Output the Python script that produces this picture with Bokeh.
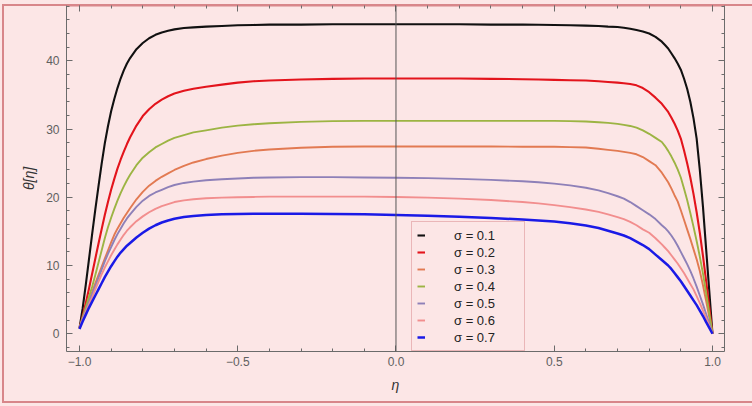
from bokeh.plotting import figure
from bokeh.models import Legend, LegendItem, LinearAxis, FixedTicker, Span, Range1d
from bokeh.embed import file_html
from bokeh.resources import INLINE

# ---- data ----
eta = [-1.0, -0.99, -0.98, -0.97, -0.96, -0.95, -0.94, -0.93, -0.92, -0.91, -0.90, -0.89,
       -0.88, -0.87, -0.86, -0.85, -0.84,
       -0.82, -0.80, -0.78, -0.76, -0.74, -0.72, -0.70,
       -0.67, -0.64, -0.60, -0.55, -0.50, -0.45, -0.40,
       -0.30, -0.20, -0.10, 0.0,
       0.10, 0.20, 0.30, 0.40,
       0.45, 0.50, 0.55, 0.60, 0.64, 0.67, 0.70,
       0.72, 0.74, 0.76, 0.78, 0.80, 0.82, 0.84,
       0.85, 0.86, 0.87, 0.88, 0.89, 0.90, 0.91, 0.92, 0.93, 0.94, 0.95, 0.96, 0.97, 0.98,
       0.99, 1.0]

theta_s01 = [0.8, 3.7, 7.2, 10.9, 14.6, 18.2, 21.6, 24.9, 27.9, 30.4, 32.6, 34.4, 36.0, 37.4, 38.6, 39.6, 40.4,
             41.7, 42.6, 43.3, 43.8, 44.15, 44.4, 44.6,
             44.8, 44.9, 45.0, 45.1, 45.2, 45.25, 45.3,
             45.3, 45.35, 45.35, 45.35,
             45.35, 45.35, 45.3, 45.3,
             45.28, 45.25, 45.2, 45.15, 45.1, 45.0, 44.95,
             44.85, 44.7, 44.5, 44.3, 44.0, 43.5, 42.8,
             42.3, 41.8, 41.1, 40.4, 39.6, 38.7, 37.4, 35.9, 34.0, 31.6, 28.6, 24.0, 18.6, 12.4, 6.2, 0.0]
theta_s02 = [0.8, 2.6, 4.5, 6.6, 8.8, 11.0, 13.2, 15.3, 17.4, 19.3, 21.1, 22.7, 24.2, 25.5, 26.7, 27.8, 28.8,
             30.5, 31.9, 32.9, 33.7, 34.3, 34.8, 35.2,
             35.6, 35.9, 36.2, 36.5, 36.8, 37.0, 37.1,
             37.25, 37.35, 37.4, 37.4,
             37.4, 37.4, 37.35, 37.3,
             37.25, 37.2, 37.15, 37.1, 37.0, 36.9, 36.8,
             36.7, 36.6, 36.4, 36.0, 35.4, 34.6, 33.7,
             33.1, 32.5, 31.7, 30.8, 29.8, 28.6, 26.9, 25.0, 22.9, 20.5, 17.8, 14.8, 11.4, 7.7, 3.9, 0.0]
theta_s03 = [0.8, 2.2, 3.5, 4.8, 6.1, 7.4, 8.6, 9.8, 11.0, 12.2, 13.4, 14.5, 15.4, 16.2, 17.0, 17.7, 18.4,
             19.7, 20.8, 21.7, 22.4, 23.0, 23.5, 24.0,
             24.6, 25.1, 25.6, 26.1, 26.5, 26.8, 27.0,
             27.25, 27.4, 27.45, 27.45,
             27.45, 27.45, 27.45, 27.4,
             27.4, 27.4, 27.35, 27.3, 27.1, 26.95, 26.8,
             26.65, 26.5, 26.3, 25.9, 25.3, 24.7, 23.6,
             22.9, 22.2, 21.3, 20.3, 19.4, 18.1, 16.7, 15.3, 13.9, 12.4, 10.9, 9.2, 7.1, 4.8, 2.4, 0.0]
theta_s04 = [0.8, 2.4, 3.9, 5.4, 6.9, 8.6, 10.4, 12.2, 14.0, 15.6, 17.0, 18.3, 19.5, 20.6, 21.6, 22.5, 23.3,
             24.7, 25.8, 26.6, 27.3, 27.8, 28.3, 28.7,
             29.1, 29.5, 29.8, 30.2, 30.5, 30.7, 30.85,
             31.05, 31.15, 31.2, 31.2,
             31.2, 31.2, 31.2, 31.2,
             31.2, 31.2, 31.15, 31.1, 31.0, 30.9, 30.75,
             30.6, 30.45, 30.2, 29.8, 29.3, 28.7, 28.1,
             27.5, 26.8, 26.0, 25.1, 24.1, 22.9, 21.3, 19.6, 17.7, 15.7, 13.6, 11.3, 8.8, 6.0, 3.0, 0.0]
theta_s05 = [0.8, 2.2, 3.4, 4.6, 5.8, 7.0, 8.2, 9.4, 10.6, 11.7, 12.7, 13.7, 14.6, 15.4, 16.2, 16.9, 17.5,
             18.6, 19.5, 20.2, 20.7, 21.1, 21.5, 21.8,
             22.1, 22.3, 22.5, 22.65, 22.75, 22.85, 22.9,
             22.95, 22.95, 22.9, 22.85,
             22.8, 22.7, 22.55, 22.35,
             22.2, 22.0, 21.75, 21.4, 21.0, 20.6, 20.15,
             19.8, 19.3, 18.7, 18.1, 17.5, 16.8, 15.9,
             15.5, 15.0, 14.4, 13.7, 12.9, 12.0, 11.1, 10.2, 9.2, 8.1, 6.9, 5.6, 4.3, 2.9, 1.5, 0.0]
theta_s06 = [0.8, 2.0, 3.2, 4.3, 5.3, 6.5, 7.6, 8.7, 9.7, 10.6, 11.5, 12.3, 13.1, 13.8, 14.5, 15.1, 15.6,
             16.5, 17.2, 17.8, 18.3, 18.7, 19.0, 19.3,
             19.55, 19.7, 19.85, 19.95, 20.0, 20.05, 20.1,
             20.1, 20.1, 20.1, 20.05,
             19.95, 19.8, 19.6, 19.3,
             19.1, 18.85, 18.55, 18.2, 17.85, 17.5, 17.1,
             16.8, 16.4, 15.9, 15.3, 14.8, 14.0, 13.1,
             12.6, 12.1, 11.5, 10.9, 10.3, 9.6, 8.9, 8.1, 7.3, 6.5, 5.5, 4.5, 3.4, 2.3, 1.15, 0.0]
theta_s07 = [0.7, 1.8, 2.8, 3.8, 4.7, 5.6, 6.5, 7.4, 8.3, 9.1, 9.9, 10.6, 11.3, 11.9, 12.4, 12.9, 13.3,
             14.1, 14.8, 15.4, 15.9, 16.3, 16.6, 16.85,
             17.1, 17.25, 17.4, 17.5, 17.55, 17.6, 17.6,
             17.6, 17.55, 17.5, 17.4,
             17.3, 17.15, 16.95, 16.75,
             16.6, 16.45, 16.2, 15.85, 15.5, 15.1, 14.7,
             14.4, 14.0, 13.5, 13.0, 12.4, 11.6, 10.8,
             10.4, 10.0, 9.5, 8.9, 8.3, 7.7, 7.0, 6.3, 5.6, 4.9, 4.2, 3.4, 2.6, 1.7, 0.85, 0.0]

series = [theta_s01, theta_s02, theta_s03, theta_s04, theta_s05, theta_s06, theta_s07]
labels = ["σ = 0.1", "σ = 0.2", "σ = 0.3", "σ = 0.4", "σ = 0.5", "σ = 0.6", "σ = 0.7"]
colors = ["#111111", "#e3141c", "#e27a52", "#9cb443", "#8e80b8", "#f28e8e", "#1a1ae6"]
widths = [2.1, 2.1, 1.9, 1.9, 1.9, 1.9, 2.5]

x_major = [-1.0, -0.5, 0.0, 0.5, 1.0]
x_major_labels = ["\u22121.0", "\u22120.5", "0.0", "0.5", "1.0"]
x_minor = [round(-1.0 + 0.1 * i, 2) for i in range(21)]
y_major = [0, 10, 20, 30, 40]
y_minor = list(range(-2, 49, 2))

BG = "#fce6e6"
BORDER = "#d8868a"
AXIS = "#6b6b6b"
FONT = "Liberation Sans"

p = figure(width=752, height=406, output_backend="svg", toolbar_location=None,
           x_range=Range1d(-1.041, 1.038), y_range=Range1d(-2.6, 48.1),
           x_axis_label="η", y_axis_label="θ[η]")
p.min_border_left = 66
p.min_border_right = 28
p.min_border_top = 5
p.min_border_bottom = 55
p.background_fill_color = BG
p.border_fill_color = BG
p.border_fill_alpha = 0.0
p.outline_line_color = None
p.grid.visible = False
p.styles = {
    "background": (f"linear-gradient({BORDER},{BORDER}) 3px 4px / 749px 2px no-repeat, "
                   f"linear-gradient({BORDER},{BORDER}) 2px 4px / 2px 399px no-repeat, "
                   f"linear-gradient({BORDER},{BORDER}) 2px 401px / 750px 2px no-repeat, {BG}"),
}

renderers = []
for ys, c, w in zip(series, colors, widths):
    r = p.line(eta, ys, line_color=c, line_width=w, line_join="round")
    renderers.append(r)

p.add_layout(Span(location=0, dimension="height", line_color="#555555", line_width=1))

def style_axis(ax, ticks, minor, line_color=AXIS, line_width=1):
    ax.ticker = FixedTicker(ticks=ticks, minor_ticks=minor)
    ax.axis_line_color = line_color
    ax.axis_line_width = line_width
    ax.major_tick_line_color = AXIS
    ax.minor_tick_line_color = AXIS
    ax.major_tick_in = 6
    ax.major_tick_out = 0
    ax.minor_tick_in = 3
    ax.minor_tick_out = 0
    ax.major_label_text_font = FONT
    ax.major_label_text_font_size = "12px"
    ax.major_label_text_color = "#606060"
    ax.axis_label_text_font = FONT
    ax.axis_label_text_font_size = "14px"
    ax.axis_label_text_font_style = "italic"
    ax.axis_label_text_color = "#333333"

xa = p.xaxis[0]
style_axis(xa, x_major, x_minor)
xa.major_label_overrides = {v: s for v, s in zip(x_major, x_major_labels)}
xa.major_label_standoff = 5
xa.axis_label_standoff = 8

ya = p.yaxis[0]
style_axis(ya, y_major, y_minor)
ya.major_label_standoff = 7
ya.axis_label_standoff = 6

top = LinearAxis()
style_axis(top, x_major, x_minor, line_color=BORDER, line_width=2)
top.major_label_overrides = {v: "" for v in x_major}
top.major_label_standoff = 0
p.add_layout(top, "above")

right = LinearAxis()
style_axis(right, y_major, y_minor)
right.major_label_overrides = {v: "" for v in y_major}
right.major_label_standoff = 0
p.add_layout(right, "right")

items = [LegendItem(label=l, renderers=[r]) for l, r in zip(labels, renderers)]
legend = Legend(items=items, location=(345, 0))
legend.background_fill_color = BG
legend.background_fill_alpha = 1.0
legend.border_line_color = BORDER
legend.border_line_width = 1.5
legend.padding = 5
legend.spacing = 1
legend.margin = 0
legend.glyph_width = 8
legend.glyph_height = 16
legend.label_height = 16
legend.label_width = 65
legend.label_standoff = 29
legend.label_text_font = FONT
legend.label_text_font_size = "13px"
legend.label_text_color = "#222222"
p.add_layout(legend)

open("out.html", "w").write(file_html(p, INLINE))
